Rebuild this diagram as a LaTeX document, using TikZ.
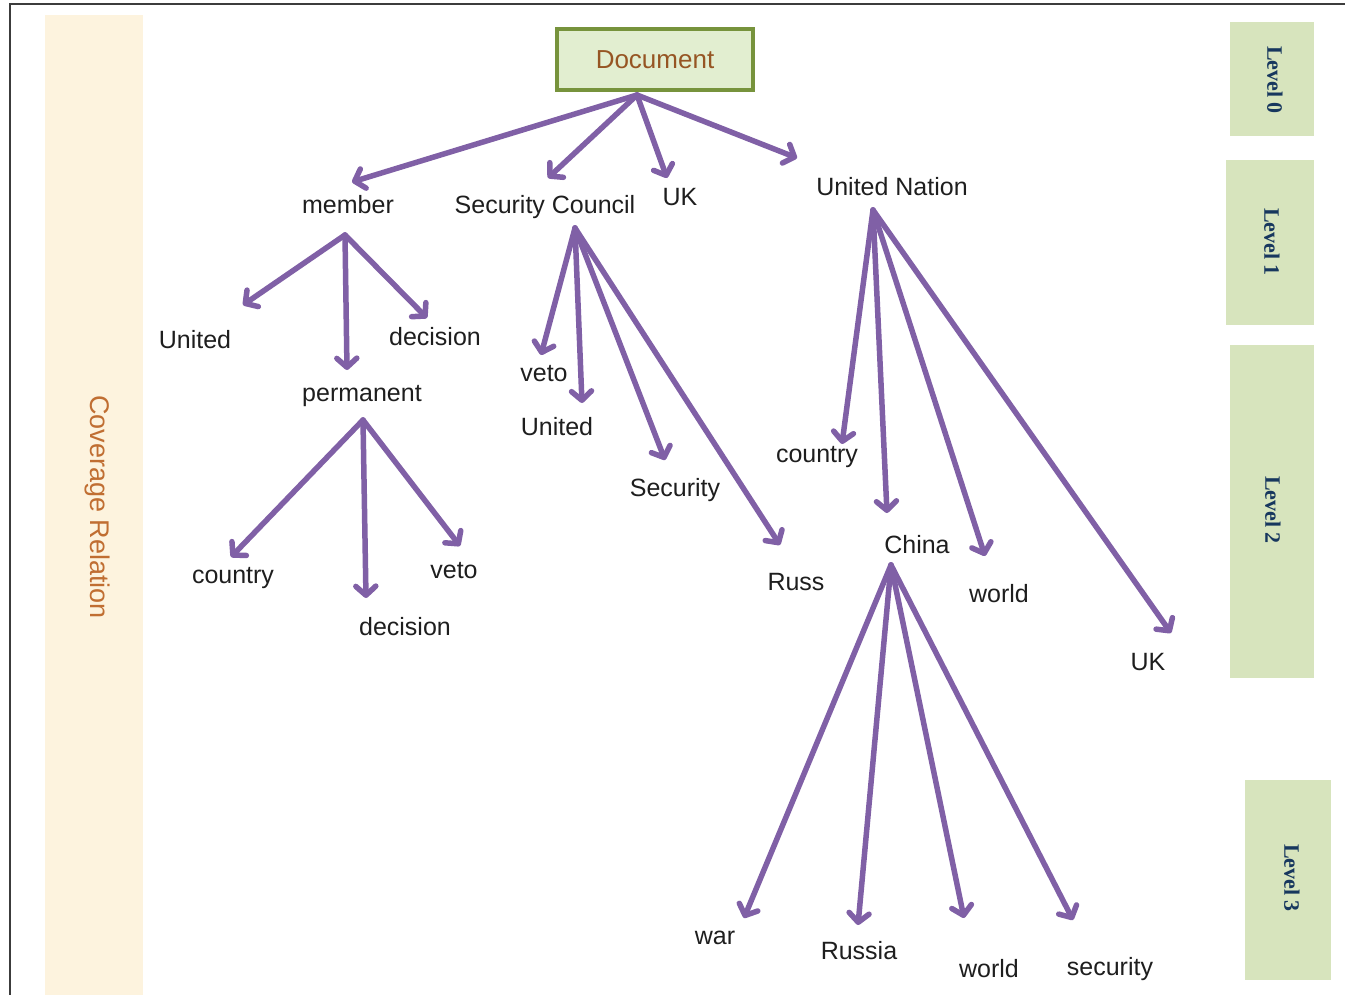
\documentclass[tikz,border=0pt]{standalone}
\usepackage{fontspec}
\setmainfont{Liberation Sans}
\newfontfamily\lvlfont{Liberation Serif}
\usetikzlibrary{arrows.meta}
\definecolor{arrc}{RGB}{128,96,166}
\definecolor{txtc}{RGB}{30,30,30}
\definecolor{creamc}{RGB}{253,243,222}
\definecolor{framec}{RGB}{60,60,60}
\definecolor{lvlfill}{RGB}{215,228,189}
\definecolor{lvltxt}{RGB}{23,55,94}
\definecolor{docborder}{RGB}{119,147,60}
\definecolor{docfill}{RGB}{226,238,208}
\definecolor{doctxt}{RGB}{150,85,35}
\definecolor{covtxt}{RGB}{192,110,50}
\tikzset{
  word/.style={font=\fontsize{25}{30}\selectfont, text=txtc, inner sep=0pt},
  arr/.style={draw=arrc, line width=5.5pt, line cap=round, -{Straight Barb[length=9pt,width=20pt,line width=5.5pt,round]}},
  lvlbox/.style={fill=lvlfill, draw=none},
  lvllabel/.style={font=\lvlfont\bfseries\fontsize{22}{26}\selectfont, text=lvltxt, rotate=-90},
}
\begin{document}
\begin{tikzpicture}[x=1pt,y=-1pt]
\useasboundingbox (0,0) rectangle (1345,995);
% background band and frame
\fill[creamc] (45,15) rectangle (143,995);
\draw[framec, line width=2pt] (10,995) -- (10,4) -- (1345,4);
\node[font=\fontsize{27}{32}\selectfont, text=covtxt, rotate=-90] (cov) at (97,507) {Coverage Relation};
% level boxes
\fill[lvlbox] (1230,22) rectangle (1314,136);
\fill[lvlbox] (1226,160) rectangle (1314,325);
\fill[lvlbox] (1230,345) rectangle (1314,678);
\fill[lvlbox] (1245,780) rectangle (1331,980);
\node[lvllabel] (l0) at (1275,80) {Level 0};
\node[lvllabel] (l1) at (1272,242) {Level 1};
\node[lvllabel] (l2) at (1273,510) {Level 2};
\node[lvllabel] (l3) at (1292,878) {Level 3};
% document
\node[draw=docborder, line width=4pt, fill=docfill, minimum width=196pt, minimum height=61pt,
      font=\fontsize{26}{30}\selectfont, text=doctxt] (doc) at (655,60) {Document};
% words
\node[word] (member) at (348,205) {member};
\node[word] (sc) at (545,207) {Security Council};
\node[word] (uk1) at (680,197) {UK};
\node[word] (un) at (892,187) {United Nation};
\node[word] (united1) at (195,340) {United};
\node[word] (decision1) at (435,337) {decision};
\node[word] (permanent) at (362,396) {permanent};
\node[word] (veto1) at (544,374) {veto};
\node[word] (united2) at (557,427) {United};
\node[word] (security1) at (675,490) {Security};
\node[word] (russ) at (796,582) {Russ};
\node[word] (country1) at (817,457) {country};
\node[word] (china) at (917,545) {China};
\node[word] (world1) at (999,594) {world};
\node[word] (uk2) at (1148,662) {UK};
\node[word] (country2) at (233,578) {country};
\node[word] (decision2) at (405,627) {decision};
\node[word] (veto2) at (454,571) {veto};
\node[word] (war) at (715,938) {war};
\node[word] (russia) at (859,951) {Russia};
\node[word] (world2) at (989,969) {world};
\node[word] (security2) at (1110,969) {security};
% origins
\coordinate (doc-o) at (637,95);
\coordinate (member-o) at (345,235);
\coordinate (perm-o) at (363,420);
\coordinate (sc-o) at (575,228);
\coordinate (un-o) at (873,210);
\coordinate (china-o) at (891,565);
% tips
\coordinate (member-t) at (352,182);
\coordinate (sc-t) at (548,178);
\coordinate (uk1-t) at (667,178);
\coordinate (un-t) at (797,158);
\coordinate (united1-t) at (243,305);
\coordinate (perm-t) at (347,370);
\coordinate (decision1-t) at (427,318);
\coordinate (country2-t) at (231,557);
\coordinate (decision2-t) at (366,598);
\coordinate (veto2-t) at (460,546);
\coordinate (veto1-t) at (541,355);
\coordinate (united2-t) at (582,403);
\coordinate (security1-t) at (665,460);
\coordinate (russ-t) at (780,545);
\coordinate (country1-t) at (842,444);
\coordinate (china-t) at (887,513);
\coordinate (world1-t) at (985,556);
\coordinate (uk2-t) at (1171,633);
\coordinate (war-t) at (744,918);
\coordinate (russia-t) at (858,925);
\coordinate (world2-t) at (964,918);
\coordinate (security2-t) at (1073,920);
% connectors
\draw[arr] (doc-o) -- (member-t);
\draw[arr] (doc-o) -- (sc-t);
\draw[arr] (doc-o) -- (uk1-t);
\draw[arr] (doc-o) -- (un-t);
\draw[arr] (member-o) -- (united1-t);
\draw[arr] (member-o) -- (perm-t);
\draw[arr] (member-o) -- (decision1-t);
\draw[arr] (perm-o) -- (country2-t);
\draw[arr] (perm-o) -- (decision2-t);
\draw[arr] (perm-o) -- (veto2-t);
\draw[arr] (sc-o) -- (veto1-t);
\draw[arr] (sc-o) -- (united2-t);
\draw[arr] (sc-o) -- (security1-t);
\draw[arr] (sc-o) -- (russ-t);
\draw[arr] (un-o) -- (country1-t);
\draw[arr] (un-o) -- (china-t);
\draw[arr] (un-o) -- (world1-t);
\draw[arr] (un-o) -- (uk2-t);
\draw[arr] (china-o) -- (war-t);
\draw[arr] (china-o) -- (russia-t);
\draw[arr] (china-o) -- (world2-t);
\draw[arr] (china-o) -- (security2-t);
\end{tikzpicture}
\end{document}
